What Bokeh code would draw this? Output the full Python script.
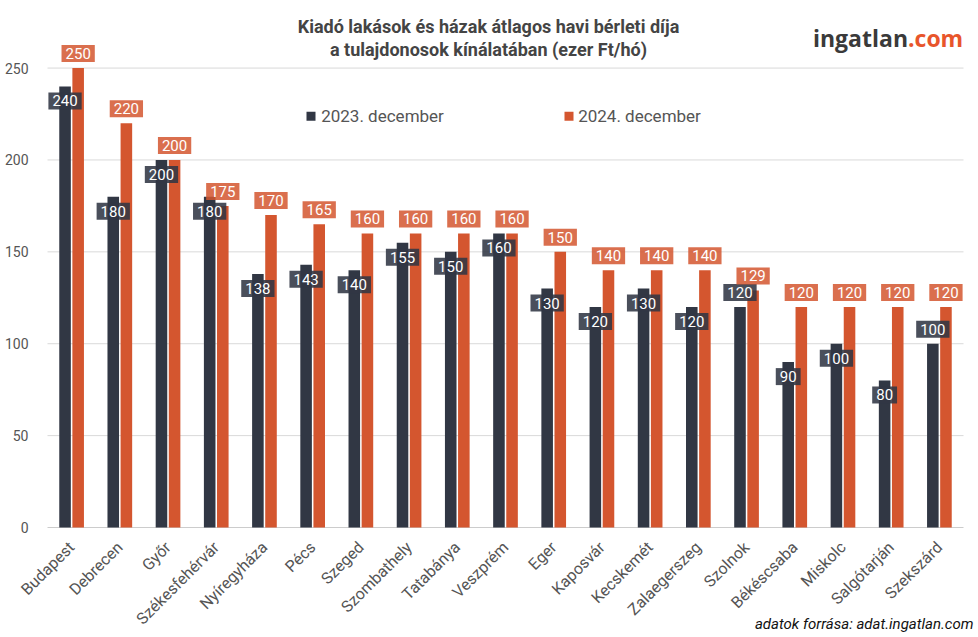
import math
from bokeh.plotting import figure
from bokeh.models import ColumnDataSource, Range1d, FixedTicker, Label, BoxAnnotation
from bokeh.transform import dodge
from bokeh.core.properties import value
from bokeh.embed import file_html
from bokeh.resources import INLINE

# ---- data ----
cities = ["Budapest", "Debrecen", "Győr", "Székesfehérvár", "Nyíregyháza", "Pécs",
          "Szeged", "Szombathely", "Tatabánya", "Veszprém", "Eger", "Kaposvár",
          "Kecskemét", "Zalaegerszeg", "Szolnok", "Békéscsaba", "Miskolc",
          "Salgótarján", "Szekszárd"]
rent_2023 = [240, 180, 200, 180, 138, 143, 140, 155, 150, 160, 130, 120, 130, 120, 120, 90, 100, 80, 100]
rent_2024 = [250, 220, 200, 175, 170, 165, 160, 160, 160, 160, 150, 140, 140, 140, 129, 120, 120, 120, 120]
series_names = ["2023. december", "2024. december"]
y_ticks = [0, 50, 100, 150, 200, 250]

title_lines = ["Kiadó lakások és házak átlagos havi bérleti díja",
               "a tulajdonosok kínálatában (ezer Ft/hó)"]
source_note = "adatok forrása: adat.ingatlan.com"

# ---- style ----
DARK = "#313744"
ORANGE = "#d4562f"
GREY_TXT = "#555555"
FONT = "Roboto"
DARK_LABEL_ABOVE = {"Szolnok", "Szekszárd"}  # label placement (collision avoidance)

n = len(cities)
idx = list(range(n))
dark_off = [-14.5 if c in DARK_LABEL_ABOVE else 14.5 for c in cities]
src = ColumnDataSource(dict(
    x=idx,
    city=cities,
    v23=rent_2023,
    v24=rent_2024,
    t23=[str(v) for v in rent_2023],
    t24=[str(v) for v in rent_2024],
    off23=dark_off,
))

# canvas geometry (px): plot area 47..963 horizontally, zero line at 527
WIDTH, HEIGHT = 978, 637
PLOT_L, PLOT_R, ZERO_PX, PX_PER_UNIT = 47, 963, 527, 1.8377
px_per_cat = (PLOT_R - PLOT_L) / n
x_rng = Range1d(-0.5 - PLOT_L / px_per_cat, n - 0.5 + (WIDTH - PLOT_R) / px_per_cat)
y_rng = Range1d(-(HEIGHT - ZERO_PX) / PX_PER_UNIT, ZERO_PX / PX_PER_UNIT)

# the frame covers the whole canvas; both axes sit at fixed locations inside it
p = figure(x_range=x_rng, y_range=y_rng, title=None, width=WIDTH, height=HEIGHT,
           output_backend="svg", toolbar_location=None,
           min_border_left=0, min_border_right=0, min_border_top=0, min_border_bottom=0)
p.outline_line_color = None
p.background_fill_color = "white"
p.border_fill_color = "white"
p.xgrid.grid_line_color = None
p.ygrid.grid_line_color = None

# horizontal grid lines limited to the plot area
p.segment(x0=[-0.5] * len(y_ticks), x1=[n - 0.5] * len(y_ticks), y0=y_ticks, y1=y_ticks,
          line_color=["#cccccc" if t == 0 else "#d9d9d9" for t in y_ticks], line_width=1)

W = 0.24
OFF = 0.136
p.vbar(x=dodge("x", -OFF), top="v23", width=W, source=src, fill_color=DARK, line_color=None)
p.vbar(x=dodge("x", OFF), top="v24", width=W, source=src, fill_color=ORANGE, line_color=None)

pad = dict(left=4, right=4, top=3, bottom=3)
p.text(x=dodge("x", -OFF), y="v23", text="t23", source=src,
       y_offset="off23", text_align="center", text_baseline="middle",
       text_font=value(FONT), text_font_size="15px", text_color="white",
       background_fill_color=DARK, background_fill_alpha=0.88, padding=pad)
p.text(x=dodge("x", OFF), y="v24", text="t24", source=src,
       y_offset=-14.5, text_align="center", text_baseline="middle",
       text_font=value(FONT), text_font_size="15px", text_color="white",
       background_fill_color=ORANGE, background_fill_alpha=0.85, padding=pad)

# y axis at the left edge of the plot area
p.yaxis.fixed_location = -0.5
p.yaxis.ticker = FixedTicker(ticks=y_ticks)
p.yaxis.axis_line_color = None
p.yaxis.major_tick_line_color = None
p.yaxis.minor_tick_line_color = None
p.yaxis.major_label_standoff = 13
p.yaxis.major_label_text_font = FONT
p.yaxis.major_label_text_font_size = "14px"
p.yaxis.major_label_text_color = GREY_TXT

# x axis at y = 0 with the city names
p.xaxis.fixed_location = 0
p.xaxis.ticker = FixedTicker(ticks=idx)
p.xaxis.major_label_overrides = {i: c for i, c in zip(idx, cities)}
p.xaxis.axis_line_color = None
p.xaxis.major_tick_line_color = None
p.xaxis.minor_tick_line_color = None
p.xaxis.major_label_orientation = math.pi / 4
p.xaxis.major_label_standoff = 11
p.xaxis.major_label_text_font = FONT
p.xaxis.major_label_text_font_size = "16px"
p.xaxis.major_label_text_color = GREY_TXT

# texts: screen coords from the canvas bottom-left (y up)
def frame_label(**kw):
    p.add_layout(Label(x_units="screen", y_units="screen", **kw))

frame_label(x=488, y=HEIGHT - 25.5, text=title_lines[0], text_align="center",
            text_baseline="alphabetic", text_font=FONT, text_font_style="bold",
            text_font_size="18px", text_color="#444444")
frame_label(x=488, y=HEIGHT - 49, text=title_lines[1], text_align="center",
            text_baseline="alphabetic", text_font=FONT, text_font_style="bold",
            text_font_size="18px", text_color="#444444")
frame_label(x=907.5, y=HEIGHT - 37, text="ingatlan", text_align="right",
            text_baseline="alphabetic", text_font="Open Sans", text_font_style="bold",
            text_font_size="23px", text_color="#3a3a3a")
frame_label(x=907.5, y=HEIGHT - 37, text=".com", text_align="left",
            text_baseline="alphabetic", text_font="Open Sans", text_font_style="bold",
            text_font_size="23px", text_color="#e8552b")

# legend (manual)
LEG_Y = HEIGHT - 115.7
for (sq_x, tx_x, col, name) in [(306, 320.7, DARK, series_names[0]),
                                 (564, 577.7, ORANGE, series_names[1])]:
    p.add_layout(BoxAnnotation(left=sq_x, right=sq_x + 9, bottom=LEG_Y - 4.5, top=LEG_Y + 4.5,
                               left_units="screen", right_units="screen",
                               top_units="screen", bottom_units="screen",
                               fill_color=col, fill_alpha=1, line_color=None))
    frame_label(x=tx_x, y=LEG_Y, text=name, text_align="left", text_baseline="middle",
                text_font=FONT, text_font_size="17px", text_color=GREY_TXT)

# source note
frame_label(x=973, y=HEIGHT - 623, text=source_note, text_align="right",
            text_baseline="middle", text_font=FONT, text_font_style="italic",
            text_font_size="15px", text_color="#111111")

open("out.html", "w").write(file_html(p, INLINE))
